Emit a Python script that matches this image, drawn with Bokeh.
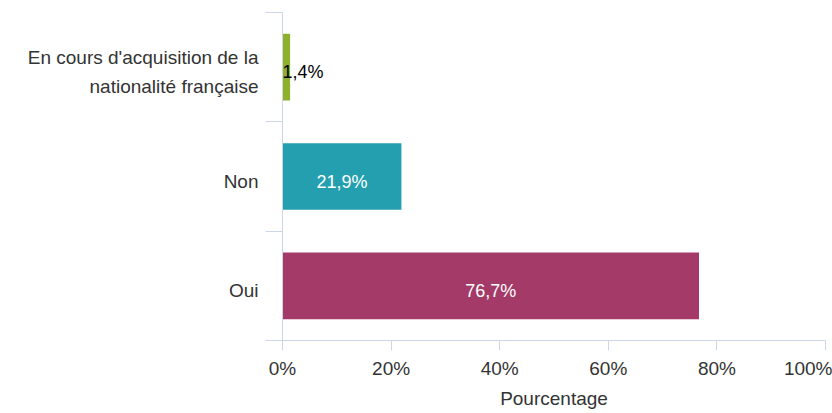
from bokeh.plotting import figure
from bokeh.models import ColumnDataSource, FixedTicker
from bokeh.core.properties import value
from bokeh.embed import file_html
from bokeh.resources import INLINE

categories = ["Oui", "Non", "En cours d'acquisition de la\nnationalité française"]
values = [76.7, 21.9, 1.4]
labels = ["76,7%", "21,9%", "1,4%"]
colors = ["#A33A68", "#239FAF", "#8DB12C"]
x_ticks = [0, 20, 40, 60, 80, 100]
x_tick_labels = ["0%", "20%", "40%", "60%", "80%", "100%"]

FONT = "Liberation Sans"
ypos = list(range(len(categories)))

# inside-label for wide bars, outside (start-aligned) label for tiny bars
lab_x = [v / 2 if v > 5 else 0 for v in values]
lab_align = ["center" if v > 5 else "left" for v in values]
lab_color = ["#ffffff" if v > 5 else "#000000" for v in values]

src = ColumnDataSource(dict(y=ypos, v=values, c=colors, lx=lab_x, la=lab_align,
                            lc=lab_color, t=labels))

p = figure(width=832, height=413, output_backend="svg", toolbar_location=None,
           x_range=(0, 100), y_range=(-0.5, len(categories) - 0.5),
           min_border_left=282, min_border_right=7, min_border_top=12,
           min_border_bottom=73)
p.outline_line_color = None
p.grid.visible = False

p.hbar(y="y", right="v", left=0, height=0.61, fill_color="c", line_color=None, source=src)
p.text(x="lx", y="y", text="t", text_align="la", text_baseline="middle",
       text_color="lc", text_font=value(FONT), text_font_size="18px",
       x_offset=0, y_offset=5, source=src)

# x axis
xa = p.xaxis[0]
xa.ticker = FixedTicker(ticks=x_ticks)
xa.major_label_overrides = {t: l for t, l in zip(x_ticks, x_tick_labels)}
xa.axis_label = "Pourcentage"
xa.axis_label_text_font = FONT
xa.axis_label_text_font_style = "normal"
xa.axis_label_text_font_size = "19px"
xa.axis_label_text_color = "#333333"
xa.axis_label_standoff = 6
xa.major_label_text_font = FONT
xa.major_label_text_font_size = "19px"
xa.major_label_text_color = "#333333"
xa.major_label_standoff = 7
xa.axis_line_color = "#ccd6eb"
xa.major_tick_line_color = "#ccd6eb"
xa.major_tick_out = 10
xa.major_tick_in = 0
xa.minor_tick_line_color = None

# y axis: labels sit slightly below the band centre, as in the reference
label_shift = 0.045
ytick_pos = [i - label_shift for i in ypos]
ya = p.yaxis[0]
ya.ticker = FixedTicker(ticks=ytick_pos, minor_ticks=[i - 0.5 for i in range(len(categories) + 1)])
ya.major_label_overrides = {t: c for t, c in zip(ytick_pos, categories)}
ya.major_label_text_font = FONT
ya.major_label_text_font_size = "19px"
ya.major_label_text_color = "#333333"
ya.major_label_text_line_height = 1.35
ya.major_label_standoff = 7
ya.major_tick_line_color = None
ya.axis_line_color = "#ccd6eb"
ya.minor_tick_line_color = "#ccd6eb"
ya.minor_tick_out = 17
ya.minor_tick_in = 0

open("out.html", "w").write(file_html(p, INLINE))
